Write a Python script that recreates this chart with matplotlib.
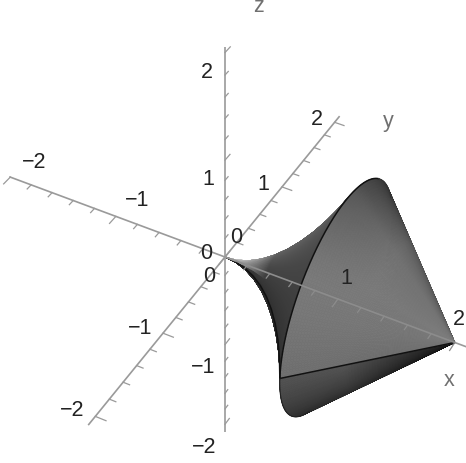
import numpy as np
import matplotlib
matplotlib.use('Agg')
import matplotlib.pyplot as plt
from matplotlib.collections import PolyCollection

plt.rcParams['font.family'] = ['Liberation Sans', 'DejaVu Sans']

# profile of the solid, radius around the x axis
profile_x = [0, 0.1, 0.2, 0.3, 0.4, 0.5, 0.6, 0.7, 0.8, 0.9, 1.0, 1.5, 2.0]
profile_r = [0, 0.01, 0.04, 0.09, 0.16, 0.25, 0.36, 0.49, 0.64, 0.81, 1.0, 0.5, 0.0]

# gray levels by angle from the seam, going over the top
cone_angle = [0, 30, 60, 100, 120, 140, 157, 296, 320, 360]
cone_gray = [112, 120, 124, 116, 102, 86, 66, 34, 50, 84]
horn_angle = [0, 20, 60, 90, 120, 180, 360]
horn_gray = [48, 55, 72, 92, 105, 80, 40]

axis_ticks = [-2.0, -1.8, -1.6, -1.4, -1.2, -1.0, -0.8, -0.6, -0.4, -0.2, 0.0,
              0.2, 0.4, 0.6, 0.8, 1.0, 1.2, 1.4, 1.6, 1.8, 2.0]
axis_labels = [-2, -1, 0, 1, 2]

# picture projection
ORIGIN = np.array([225.0, 257.0])
A_X = np.array([111.0, 41.3])
A_Y = np.array([59.4, -73.0])
A_Z = np.array([0.0, -92.0])
W = np.array([-0.017, 0.042, -0.05])

AXIS_GRAY = '#9a9a9a'
OVER_GRAY = '#8c8c8c'


def project(x, y, z):
    x, y, z = np.asarray(x, float), np.asarray(y, float), np.asarray(z, float)
    d = 1 + W[0] * x + W[1] * y + W[2] * z
    px = ORIGIN[0] + (A_X[0] * x + A_Y[0] * y + A_Z[0] * z) / d
    py = ORIGIN[1] + (A_X[1] * x + A_Y[1] * y + A_Z[1] * z) / d
    return px, py


def axis_line(ax, x, y, z, color=AXIS_GRAY):
    px, py = project(x, y, z)
    ax.plot(px, py, color=color, lw=1.2, solid_capstyle='butt', zorder=5)


fig = plt.figure(figsize=(4.66, 4.63), dpi=100)
ax = fig.add_axes([0, 0, 1, 1])
ax.set_xlim(0, 466)
ax.set_ylim(463, 0)
ax.axis('off')

# surface
xs = np.unique(np.concatenate([np.linspace(0, 1, 81), np.linspace(1, 2, 61)]))
rs = np.interp(xs, profile_x, profile_r)
phi = np.linspace(0, 360, 241)
X, P = np.meshgrid(xs, phi, indexing='ij')
R = np.interp(X, xs, rs)
Y = -R * np.cos(np.radians(P))
Z = R * np.sin(np.radians(P))
PX, PY = project(X, Y, Z)
D = 1 + W[0] * X + W[1] * Y + W[2] * Z

xm = 0.25 * (X[:-1, :-1] + X[1:, :-1] + X[:-1, 1:] + X[1:, 1:])
pm = 0.25 * (P[:-1, :-1] + P[1:, :-1] + P[:-1, 1:] + P[1:, 1:])
dm = 0.25 * (D[:-1, :-1] + D[1:, :-1] + D[:-1, 1:] + D[1:, 1:])

gray = np.where(xm > 1, np.interp(pm, cone_angle, cone_gray), np.interp(pm, horn_angle, horn_gray))
# underside goes black towards the tip
under = (xm > 1) & (pm > 200)
gray = np.where(under, gray * np.clip(0.3 + (2 - xm) * 1.1, 0, 1), gray)
# top of the cone is darker next to the crease
top = (xm > 1) & (pm <= 200)
gray = np.where(top, gray - 35 * np.clip((1.4 - xm) / 0.4, 0, 1) * np.clip((pm - 50) / 60, 0, 1), gray)
# highlight on the horn close to the origin
near = (xm <= 1) & (pm > 30) & (pm < 200)
gray = np.where(near, gray + 95 * np.clip((0.45 - xm) / 0.3, 0, 1), gray)

polys = np.stack([
    np.stack([PX[:-1, :-1], PY[:-1, :-1]], -1),
    np.stack([PX[1:, :-1], PY[1:, :-1]], -1),
    np.stack([PX[1:, 1:], PY[1:, 1:]], -1),
    np.stack([PX[:-1, 1:], PY[:-1, 1:]], -1)], axis=2).reshape(-1, 4, 2)
order = np.argsort(-dm.ravel())
colors = np.repeat(np.clip(gray.ravel()[order, None] / 255, 0, 1), 3, axis=1)
ax.add_collection(PolyCollection(polys[order], facecolors=colors, edgecolors=colors,
                                 linewidths=0.4, zorder=2))

# seam and the crease at x = 1
sx, sy = project(xs, -rs, 0 * xs)
ax.plot(sx, sy, color='#111111', lw=1.1, zorder=3)
arc = np.radians(np.arange(0, 131))
ax.plot(*project(1 + 0 * arc, -np.cos(arc), np.sin(arc)), color='#111111', lw=1.1, zorder=3)
arc = np.radians(np.arange(296, 361))
ax.plot(*project(1 + 0 * arc, -np.cos(arc), np.sin(arc)), color='#222222', lw=0.8, zorder=3)
arc = np.radians(np.arange(130, 160))
ax.plot(*project(1 + 0 * arc, -np.cos(arc), np.sin(arc)), color='#333333', lw=0.8, zorder=3)

# axes, the x axis is fainter where it runs over the surface
axis_line(ax, [-2.01, 0], [0, 0], [0, 0])
axis_line(ax, [0, 2], [0, 0], [0, 0], OVER_GRAY)
axis_line(ax, [2, 2.12], [0, 0], [0, 0])
axis_line(ax, [0, 0], [-2.1, 2.1], [0, 0])
axis_line(ax, [0, 0], [0, 0], [-2.1, 2.05])

for t in axis_ticks:
    major = abs(t - round(t)) < 1e-6
    n = 0.1 if major else 0.06
    c = OVER_GRAY if t > 0 else AXIS_GRAY
    ax.plot(*project([t, t], [0, -n], [0, 0]), color=c, lw=0.9, zorder=5)
    n = 0.09 if major else 0.055
    ax.plot(*project([0, n], [t, t], [0, 0]), color=AXIS_GRAY, lw=0.9, zorder=5)
    n = 0.08 if major else 0.05
    ax.plot(*project([0, 0], [0, n], [t, t]), color=AXIS_GRAY, lw=0.9, zorder=5)

for t in axis_labels:
    s = str(t).replace('-', '\u2212')
    kw = dict(fontsize=15.5, color='#222222', va='center', zorder=6)
    if t >= 0:
        ax.text(*project(t * 0.98 - 0.03, 0.25, 0), s, ha='center', **kw)
        ax.text(*project(-0.17, t, -0.04), s, ha='center', **kw)
        px, py = project(0, -0.27, t)
    else:
        ax.text(*project(t * 0.98, 0.3, -0.04), s, ha='center', **kw)
        ax.text(*project(-0.2, t, -0.04), s, ha='center', **kw)
        px, py = project(0, -0.27, t - 0.04)
    ax.text(px + 6, py, s, ha='right', **kw)

kw = dict(fontsize=15.5, color='#707070', ha='center', va='center', zorder=6)
ax.text(449, 381, 'x', **kw)
ax.text(388, 121, 'y', **kw)
ax.text(259, 6, 'z', **kw)

fig.savefig('out.png', dpi=100)
